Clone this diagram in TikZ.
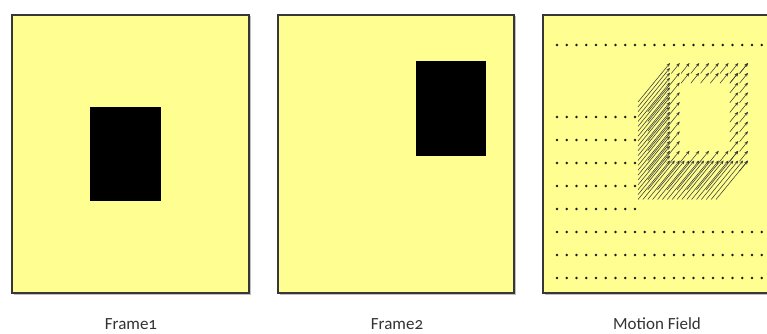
\documentclass[tikz,border=0pt]{standalone}
\usepackage{fontspec}
\setmainfont{Carlito}[Numbers=OldStyle]
\usetikzlibrary{arrows.meta}
\definecolor{fieldyellow}{RGB}{255,255,145}
\definecolor{edgegray}{RGB}{55,55,55}
\begin{document}
\begin{tikzpicture}[x=1pt,y=-1pt,
  frame/.style={draw=edgegray,line width=1.1pt,fill=fieldyellow,anchor=north west,inner sep=0pt,outer sep=0pt},
  obj/.style={fill=black,draw=black,anchor=north west,inner sep=0pt,outer sep=0pt},
  mvec/.style={draw=black!78,line width=0.55pt,-{Stealth[length=3.8pt,width=3pt]}},
  lbl/.style={font=\fontsize{17}{19}\selectfont,text=black!80}]
\useasboundingbox (0,0) rectangle (767,334);
\fill[white] (0,0) rectangle (767,334);
\begin{scope}
\clip (0,0) rectangle (767,334);
% shadows
\fill[black!25] (13.5,16.5) rectangle (250.5,294.5);
\fill[black!25] (279.5,16.5) rectangle (515.5,294.5);
\fill[black!25] (544.5,16.5) rectangle (772,294.5);
% frames
\node[frame,minimum width=237pt,minimum height=278pt] (f1) at (12,15) {};
\node[frame,minimum width=236pt,minimum height=278pt] (f2) at (278,15) {};
\node[frame,minimum width=230pt,minimum height=278pt] (f3) at (543,15) {};
% objects
\node[obj,minimum width=70pt,minimum height=93pt] (o1) at (90,107) {};
\node[obj,minimum width=69pt,minimum height=94pt] (o2) at (416,61) {};
% motion field dots
\foreach \r in {45,232,255,278}
  \foreach \i in {0,...,21}
    \fill[black!90] (557+\i*9.75,\r) circle (1.45);
\foreach \r in {117,140,163,186,209}
  \foreach \i in {0,...,8}
    \fill[black!90] (557+\i*9.75,\r) circle (1.45);
% motion vectors: outer ring, dense long vectors on left and bottom edges
\foreach \k in {0,...,20}
  \draw[mvec] (670-32,63+\k*4.875+39) -- (670,63+\k*4.875);
\foreach \k in {1,...,16}
  \draw[mvec] (670+\k*4.875-32,160.5+39) -- (670+\k*4.875,160.5);
% both rings: short vectors on top and right edges
\foreach \xa/\ya/\nx/\ny in {670/63/8/10, 679.75/72.75/6/8}{
  \foreach \k in {1,...,\nx}
    \draw[mvec] (\xa+\k*9.75-8.5,\ya+10.5) -- (\xa+\k*9.75,\ya);
  \foreach \k in {0,...,\ny}
    \draw[mvec] (\xa+\nx*9.75-8.5,\ya+\k*9.75+10.5) -- (\xa+\nx*9.75,\ya+\k*9.75);
}
% inner ring: long vectors on left and bottom edges
\foreach \k in {0,...,8}
  \draw[mvec] (679.75-32,72.75+\k*9.75+39) -- (679.75,72.75+\k*9.75);
\foreach \k in {1,...,6}
  \draw[mvec] (679.75+\k*9.75-32,150.75+39) -- (679.75+\k*9.75,150.75);
\end{scope}
% labels
\node[lbl] (l1) at (131,324) {Frame1};
\node[lbl] (l2) at (397,324) {Frame2};
\node[lbl] (l3) at (657,324) {Motion Field};
\end{tikzpicture}
\end{document}
